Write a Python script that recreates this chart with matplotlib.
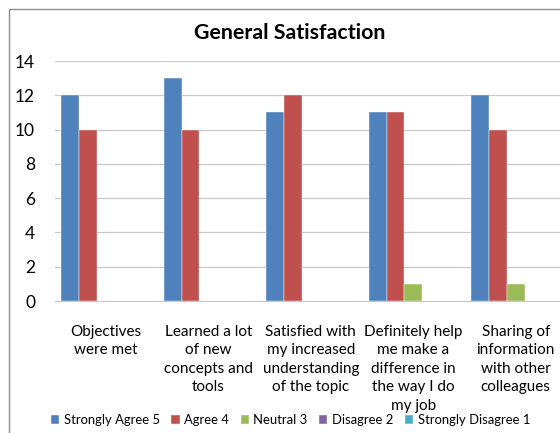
import matplotlib
matplotlib.use("Agg")
import matplotlib.pyplot as plt
import numpy as np
from matplotlib.patches import Rectangle

categories = ["Objectives\nwere met",
              "Learned a lot\nof new\nconcepts and\ntools",
              "Satisfied with\nmy increased\nunderstanding\nof the topic",
              "Definitely help\nme make a\ndifference in\nthe way I do\nmy job",
              "Sharing of\ninformation\nwith other\ncolleagues"]
series_names = ["Strongly Agree 5", "Agree 4", "Neutral 3", "Disagree 2", "Strongly Disagree 1"]
strongly_agree = [12, 13, 11, 11, 12]
agree = [10, 10, 12, 11, 10]
neutral = [0, 0, 0, 1, 1]
disagree = [0, 0, 0, 0, 0]
strongly_disagree = [0, 0, 0, 0, 0]
colors = ["#4F81BD", "#C0504D", "#9BBB59", "#8064A2", "#4BACC6"]
yticks = [0, 2, 4, 6, 8, 10, 12, 14]

plt.rcParams['font.family'] = ['Lato', 'DejaVu Sans']

W, H = 560, 433
fig = plt.figure(figsize=(W/100, H/100), dpi=100)
fig.patch.set_facecolor("white")

# chart border (cropped on right and bottom)
fig.patches.append(Rectangle((9/W, -0.1), 1.2, (H-9)/H + 0.1, transform=fig.transFigure,
                             fill=False, edgecolor="#8C8C8C", linewidth=1.0))

left = 54.5 / W
width = 512.5 / W
bottom = (H - 301) / H
height = 240 / H
ax = fig.add_axes([left, bottom, width, height])

data = [strongly_agree, agree, neutral, disagree, strongly_disagree]
n = len(series_names)
bw = 1 / 5.75
x = np.arange(len(categories))
handles = []
for i, (vals, c, name) in enumerate(zip(data, colors, series_names)):
    offs = (i - (n - 1) / 2) * bw
    b = ax.bar(x + offs, vals, width=bw, color=c, label=name, zorder=3,
               edgecolor="white", linewidth=0.3)
    handles.append(b)

ax.set_xlim(-0.5, len(categories) - 0.5)
ax.set_ylim(0, 14)
ax.set_yticks(yticks)
ax.set_yticklabels([str(v) for v in yticks], fontsize=12.5)
ax.yaxis.grid(True, color="#C8C8C8", linewidth=0.9, zorder=0)
ax.tick_params(axis='y', length=0, pad=14)
for s in ["left", "right", "top"]:
    ax.spines[s].set_visible(False)
ax.spines["bottom"].set_color("#C8C8C8")
ax.set_xticks(x)
ax.set_xticklabels(categories, fontsize=11, linespacing=1.42, va="top")
ax.tick_params(axis='x', length=0, pad=17)

fig.text(290 / W, 1 - 33 / H, "General Satisfaction", ha="center", va="center",
         fontsize=15.4, fontweight="bold")

leg = fig.legend(handles=handles, labels=series_names, loc="center left",
                 bbox_to_anchor=(51 / W, 1 - 420 / H), ncol=5, frameon=False,
                 fontsize=9.4, handlelength=0.62, handleheight=0.62, handletextpad=0.35,
                 columnspacing=0.9, borderaxespad=0, borderpad=0)

fig.savefig("out.png", dpi=100)
